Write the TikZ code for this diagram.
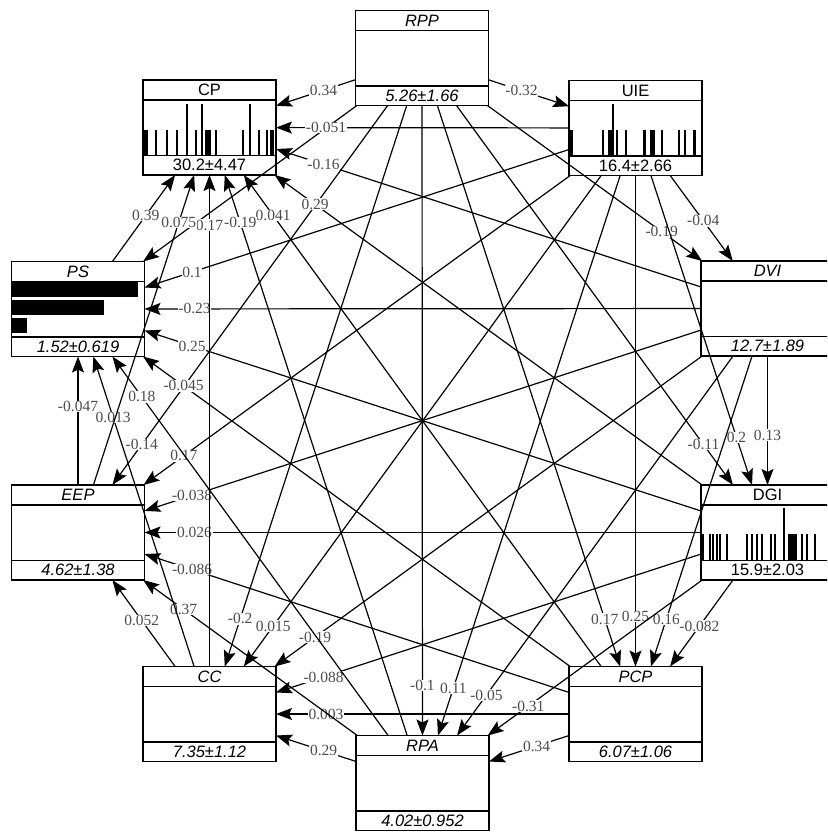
\documentclass[tikz,border=0pt]{standalone}
\usepackage{fontspec}
\setmainfont{Liberation Serif}
\newfontfamily\boxfont{Liberation Sans}
\usetikzlibrary{calc,arrows.meta}

\tikzset{
  bn/.style={draw, line width=1.4pt, minimum width=133pt, minimum height=95pt,
             inner sep=0pt, outer sep=0pt},
  divider/.style={line width=1.4pt},
  link/.style={line width=1.2pt, -{Stealth[length=16pt,width=12pt,inset=3pt]}},
  wt/.style={fill=white, inner sep=0.6pt, text=black!70,
             font=\fontsize{15.5}{15.5}\selectfont},
  bar/.style={line width=1.5pt},
}
\newcommand\bup{\boxfont\fontsize{16.5}{16.5}\selectfont}
\newcommand\bit{\boxfont\itshape\fontsize{16.5}{16.5}\selectfont}

% a network node: name, x, y, title, mean+-sd, font
\newcommand\bnbox[6]{%
  \node[bn] (#1) at (#2,#3) {};
  \draw[divider] ($(#1.north west)+(0,20)$) -- ($(#1.north east)+(0,20)$);
  \draw[divider] ($(#1.south west)+(0,-19.5)$) -- ($(#1.south east)+(0,-19.5)$);
  \node[font=#6, inner sep=0pt] at ($(#1.north)+(0,10)$) {#4};
  \node[font=#6, inner sep=0pt] at ($(#1.south)+(0,-9.75)$) {#5};
}
% a weighted link from #2 to #3, weight written #1 before the head
\newcommand\lnk[4][50pt]{%
  \draw[link] (#2) -- (#3) coordinate[pos=1] (tip);
  \node[wt] at ($(tip)!#1!(#2)$) {#4};
}

\begin{document}
\begin{tikzpicture}[x=1pt,y=-1pt]
\path[use as bounding box] (0,0) rectangle (827,832);
\clip (0,0) rectangle (827,832);
\fill[white] (0,0) rectangle (827,832);

% nodes
\bnbox{RPP}{422}{58}{RPP}{5.26±1.66}{\bit}
\bnbox{CP}{209.5}{127.5}{CP}{30.2±4.47}{\bup}
\bnbox{UIE}{635.5}{128}{UIE}{16.4±2.66}{\bup}
\bnbox{PS}{78}{309}{PS}{1.52±0.619}{\bit}
\bnbox{DVI}{767.5}{308.5}{DVI}{12.7±1.89}{\bit}
\bnbox{EEP}{78}{532.5}{EEP}{4.62±1.38}{\bit}
\bnbox{DGI}{767.5}{532.5}{DGI}{15.9±2.03}{\bup}
\bnbox{CC}{209.5}{714}{CC}{7.35±1.12}{\bit}
\bnbox{PCP}{635.5}{714}{PCP}{6.07±1.06}{\bit}
\bnbox{RPA}{422.5}{783}{RPA}{4.02±0.952}{\bit}

% CP distribution
\fill (143,130) rectangle (148,155);
\fill (205,130) rectangle (211,155);
\foreach \x in {156,167,177,196,216,243,259,267,271,273}
  \draw[bar] (\x,155) -- (\x,130);
\foreach \x in {187,202,250}
  \draw[bar] (\x,155) -- (\x,104);

% UIE distribution
\fill (569,130) rectangle (573,155);
\fill (608,130) rectangle (613,155);
\fill (643,130) rectangle (646,155);
\fill (650,130) rectangle (655,155);
\fill (693,130) rectangle (696,155);
\foreach \x in {603,617,626,662,679,685}
  \draw[bar] (\x,155) -- (\x,130);
\draw[bar] (613,155) -- (613,104);

% DGI distribution
\fill (701,534) rectangle (704,560);
\fill (788,534) rectangle (797,560);
\foreach \x in {710,713,717,720,727,747,752,757,762,771,775,802,807,815}
  \draw[bar] (\x,560) -- (\x,534);
\draw[bar] (784,560) -- (784,508);

% PS distribution
\fill (12,281) rectangle (138,297);
\fill (12,300) rectangle (104,315);
\fill (12,318) rectangle (27,333);

% links, grouped by child node
\lnk{RPP}{UIE}{-0.32}
\lnk{RPP}{DVI}{-0.19}
\lnk{UIE}{DVI}{-0.04}
\lnk{RPP}{DGI}{-0.11}
\lnk{UIE}{DGI}{0.2}
\lnk{DVI}{DGI}{0.13}
\lnk{RPP}{PCP}{0.17}
\lnk{UIE}{PCP}{0.25}
\lnk{DVI}{PCP}{0.16}
\lnk{DGI}{PCP}{-0.082}
\lnk{RPP}{RPA}{-0.1}
\lnk{UIE}{RPA}{0.11}
\lnk{DVI}{RPA}{-0.05}
\lnk{DGI}{RPA}{-0.31}
\lnk{PCP}{RPA}{0.34}
\lnk{RPP}{CC}{-0.2}
\lnk{UIE}{CC}{0.015}
\lnk{DVI}{CC}{-0.19}
\lnk{DGI}{CC}{-0.088}
\lnk{PCP}{CC}{0.003}
\lnk{RPA}{CC}{0.29}
\lnk{RPP}{EEP}{-0.14}
\lnk{UIE}{EEP}{0.17}
\lnk{DVI}{EEP}{-0.038}
\lnk{DGI}{EEP}{0.026}
\lnk{PCP}{EEP}{-0.086}
\lnk{RPA}{EEP}{0.37}
\lnk{CC}{EEP}{0.052}
\draw[link] (RPP) -- (PS);
\lnk{UIE}{PS}{0.1}
\lnk{DVI}{PS}{-0.23}
\lnk{DGI}{PS}{0.25}
\lnk{PCP}{PS}{-0.045}
\lnk{RPA}{PS}{0.18}
\lnk[64pt]{CC}{PS}{0.013}
\lnk{EEP}{PS}{-0.047}
\lnk{RPP}{CP}{0.34}
\lnk{UIE}{CP}{-0.051}
\lnk{DVI}{CP}{-0.16}
\lnk{DGI}{CP}{0.29}
\lnk{PCP}{CP}{0.041}
\lnk{RPA}{CP}{-0.19}
\lnk{CC}{CP}{0.17}
\lnk{EEP}{CP}{0.075}
\lnk{PS}{CP}{0.39}
\end{tikzpicture}
\end{document}
